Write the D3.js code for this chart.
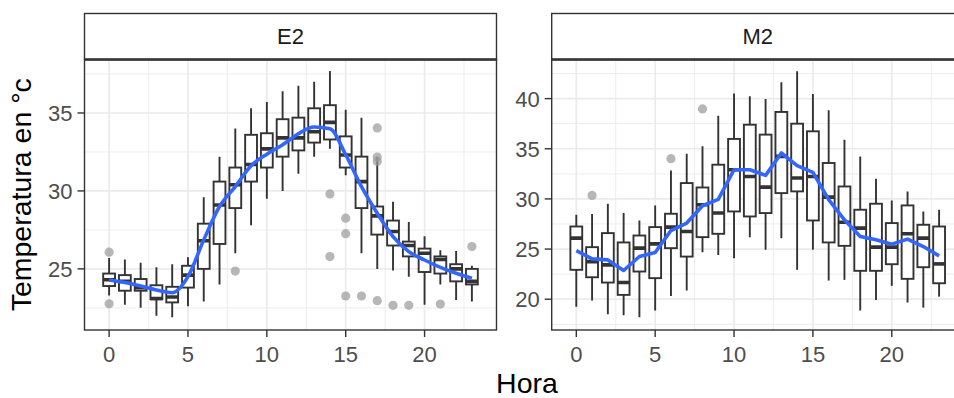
<!DOCTYPE html>
<html>
<head>
<meta charset="utf-8">
<script src="https://cdn.jsdelivr.net/npm/d3@7/dist/d3.min.js"></script>
<style>
  html, body { margin: 0; padding: 0; background: #fff; }
  svg { display: block; font-family: "Liberation Sans", Arial, Helvetica, sans-serif; }
</style>
</head>
<body>
<svg id="chart" width="954" height="398"></svg>
<script>
// ---------- data ----------
const hours = d3.range(0, 24);
const panels = ["E2", "M2"];
const xTicks = [0, 5, 10, 15, 20];
const e2YTicks = [25, 30, 35];
const m2YTicks = [20, 25, 30, 35, 40];

const e2Low  = [23.3, 22.7, 22.5, 22.0, 21.9, 22.6, 22.9, 24.0, 26.0, 27.8, 29.5, 30.0, 31.1, 32.2, 32.7, 31.0, 26.0, 25.0, 24.9, 24.5, 22.7, 24.0, 23.0, 22.9];
const e2Q1   = [23.9, 23.6, 23.6, 23.05, 22.85, 23.8, 25.0, 26.6, 28.9, 30.6, 31.5, 32.2, 32.6, 33.1, 33.3, 31.5, 28.9, 27.2, 26.5, 25.8, 24.8, 24.7, 24.2, 24.0];
const e2Med  = [24.3, 24.2, 23.8, 23.1, 23.2, 24.6, 26.8, 29.1, 30.4, 31.7, 32.7, 33.4, 33.4, 33.8, 34.4, 32.3, 30.6, 28.4, 27.4, 26.5, 26.0, 25.6, 25.0, 24.2];
const e2Q3   = [24.7, 24.6, 24.35, 23.95, 23.85, 25.2, 27.9, 30.6, 31.5, 33.6, 33.7, 34.6, 34.7, 35.3, 35.5, 33.5, 32.2, 29.0, 28.1, 26.75, 26.3, 25.8, 25.3, 25.0];
const e2High = [25.7, 25.6, 25.4, 25.1, 25.3, 25.75, 29.6, 32.2, 34.0, 35.3, 35.7, 36.4, 36.75, 37.0, 37.7, 35.2, 34.7, 32.2, 29.3, 28.0, 27.1, 26.2, 26.15, 25.2];
const e2Out  = [[0, 26.07], [0, 22.76], [8, 24.86], [14, 29.81], [14, 25.79], [15, 28.25], [15, 27.26], [15, 23.26], [16, 23.26], [17, 34.04], [17, 32.17], [17, 31.89], [17, 22.96], [18, 22.66], [19, 22.66], [21, 22.74], [23, 26.43]];
const e2Smooth = [24.29, 24.12, 23.90, 23.64, 23.47, 24.50, 26.86, 29.0, 30.28, 31.61, 32.36, 32.96, 33.67, 34.10, 33.99, 32.32, 30.28, 28.57, 27.07, 26.11, 25.57, 25.10, 24.72, 24.40];

const m2Low  = [19.26, 19.86, 18.5, 18.4, 18.2, 18.87, 20.33, 20.86, 24.69, 24.42, 24.09, 26.19, 24.92, 26.09, 22.93, 24.92, 21.86, 21.93, 18.87, 19.93, 21.33, 19.67, 19.16, 20.26];
const m2Q1   = [22.93, 22.19, 21.66, 20.43, 22.76, 22.10, 25.09, 24.25, 26.19, 26.52, 28.75, 28.25, 28.59, 30.58, 30.75, 27.85, 25.66, 25.32, 22.83, 22.83, 23.49, 22.03, 23.19, 21.59];
const m2Med  = [26.09, 23.75, 23.42, 21.66, 25.09, 25.52, 27.19, 26.75, 29.42, 28.59, 32.91, 32.24, 31.18, 34.24, 32.08, 32.24, 30.18, 27.68, 27.09, 25.19, 25.19, 26.52, 26.09, 23.52];
const m2Q3   = [27.25, 25.19, 26.59, 25.66, 26.35, 27.19, 28.52, 31.58, 31.14, 33.41, 35.98, 37.40, 36.41, 38.67, 37.50, 36.74, 33.58, 31.24, 28.92, 29.52, 27.59, 29.35, 27.42, 27.25];
const m2High = [28.42, 28.49, 29.52, 28.59, 27.85, 29.35, 32.84, 34.51, 35.24, 38.30, 40.50, 40.23, 39.97, 41.63, 42.73, 40.47, 38.83, 35.91, 34.24, 32.01, 29.85, 30.75, 28.75, 28.92];
const m2Out  = [[1, 30.35], [6, 34.01], [8, 38.97]];
const m2Smooth = [24.85, 24.02, 23.92, 22.86, 24.26, 24.66, 26.85, 27.59, 29.32, 29.95, 32.91, 32.91, 32.35, 34.58, 33.31, 32.64, 29.92, 27.92, 26.25, 25.92, 25.49, 25.99, 25.25, 24.32];

const xTitle = "Hora";
const yTitle = "Temperatura en °c";

// ---------- layout ----------
const svg = d3.select("#chart");
const stripTop = 13.5, panelTop = 59.5, panelBottom = 330;
const panelW = 412;
const panelLefts = [84.5, 551.7];

const panelSpecs = [
  { name: panels[0], low: e2Low, q1: e2Q1, med: e2Med, q3: e2Q3, high: e2High, out: e2Out, smooth: e2Smooth,
    yDomain: [21.08, 38.43], yTicks: e2YTicks, curve: d3.curveMonotoneX },
  { name: panels[1], low: m2Low, q1: m2Q1, med: m2Med, q3: m2Q3, high: m2High, out: m2Out, smooth: m2Smooth,
    yDomain: [16.93, 43.9], yTicks: m2YTicks, curve: d3.curveLinear }
];

const textCol = "#4D4D4D", lineCol = "#333333", gridCol = "#EBEBEB";
const tickFont = 22, titleFont = 28.5;

panelSpecs.forEach((p, i) => {
  const x0 = panelLefts[i], x1 = x0 + panelW;
  const x = d3.scaleLinear().domain([-1.56, 24.56]).range([x0, x1]);
  const y = d3.scaleLinear().domain(p.yDomain).range([panelBottom, panelTop]);
  const g = svg.append("g");

  const clipId = "clip" + i;
  svg.append("clipPath").attr("id", clipId).append("rect")
    .attr("x", x0).attr("y", panelTop).attr("width", panelW).attr("height", panelBottom - panelTop);

  g.append("rect").attr("x", x0).attr("y", panelTop).attr("width", panelW).attr("height", panelBottom - panelTop).attr("fill", "#fff");

  const grid = g.append("g").attr("clip-path", `url(#${clipId})`);
  const step = p.yTicks[1] - p.yTicks[0];
  const yMinor = d3.range(p.yTicks.length + 1).map(k => p.yTicks[0] - step / 2 + k * step);
  const xMinor = [2.5, 7.5, 12.5, 17.5, 22.5];
  grid.selectAll(".ymin").data(yMinor).join("line")
    .attr("x1", x0).attr("x2", x1).attr("y1", d => y(d)).attr("y2", d => y(d))
    .attr("stroke", gridCol).attr("stroke-width", 0.9);
  grid.selectAll(".xmin").data(xMinor).join("line")
    .attr("y1", panelTop).attr("y2", panelBottom).attr("x1", d => x(d)).attr("x2", d => x(d))
    .attr("stroke", gridCol).attr("stroke-width", 0.9);
  grid.selectAll(".ymaj").data(p.yTicks).join("line")
    .attr("x1", x0).attr("x2", x1).attr("y1", d => y(d)).attr("y2", d => y(d))
    .attr("stroke", gridCol).attr("stroke-width", 1.7);
  grid.selectAll(".xmaj").data(xTicks).join("line")
    .attr("y1", panelTop).attr("y2", panelBottom).attr("x1", d => x(d)).attr("x2", d => x(d))
    .attr("stroke", gridCol).attr("stroke-width", 1.7);

  // boxplots
  const bw = (x(0.75) - x(0));
  const boxes = g.append("g").attr("clip-path", `url(#${clipId})`);
  hours.forEach((h, k) => {
    const cx = x(h);
    boxes.append("line").attr("x1", cx).attr("x2", cx).attr("y1", y(p.high[k])).attr("y2", y(p.q3[k]))
      .attr("stroke", lineCol).attr("stroke-width", 1.9);
    boxes.append("line").attr("x1", cx).attr("x2", cx).attr("y1", y(p.q1[k])).attr("y2", y(p.low[k]))
      .attr("stroke", lineCol).attr("stroke-width", 1.9);
    boxes.append("rect").attr("x", cx - bw / 2).attr("width", bw)
      .attr("y", y(p.q3[k])).attr("height", Math.max(0.5, y(p.q1[k]) - y(p.q3[k])))
      .attr("fill", "#fff").attr("stroke", lineCol).attr("stroke-width", 1.9);
    boxes.append("line").attr("x1", cx - bw / 2).attr("x2", cx + bw / 2).attr("y1", y(p.med[k])).attr("y2", y(p.med[k]))
      .attr("stroke", lineCol).attr("stroke-width", 3.6);
  });
  boxes.selectAll(".out").data(p.out).join("circle")
    .attr("cx", d => x(d[0])).attr("cy", d => y(d[1])).attr("r", 4.6)
    .attr("fill", "#999999").attr("fill-opacity", 0.7);

  const line = d3.line().x((d, k) => x(hours[k])).y(d => y(d)).curve(p.curve);
  boxes.append("path").datum(p.smooth).attr("d", line)
    .attr("fill", "none").attr("stroke", "#3366FF").attr("stroke-width", 3.6)
    .attr("stroke-linejoin", "round").attr("stroke-linecap", "butt");

  // panel border
  g.append("rect").attr("x", x0).attr("y", panelTop).attr("width", panelW).attr("height", panelBottom - panelTop)
    .attr("fill", "none").attr("stroke", lineCol).attr("stroke-width", 1.4);

  // strip
  g.append("rect").attr("x", x0).attr("y", stripTop).attr("width", panelW).attr("height", panelTop - stripTop)
    .attr("fill", "#fff").attr("stroke", lineCol).attr("stroke-width", 1.4);
  g.append("line").attr("x1", x0).attr("x2", x1).attr("y1", panelTop).attr("y2", panelTop)
    .attr("stroke", lineCol).attr("stroke-width", 2.6);
  g.append("text").attr("x", (x0 + x1) / 2).attr("y", (stripTop + panelTop) / 2).attr("dy", "0.36em")
    .attr("text-anchor", "middle").attr("font-size", tickFont).attr("fill", "#1A1A1A").text(p.name);

  // y axis
  const yAx = g.append("g");
  yAx.selectAll("line").data(p.yTicks).join("line")
    .attr("x1", x0 - 7).attr("x2", x0).attr("y1", d => y(d)).attr("y2", d => y(d))
    .attr("stroke", lineCol).attr("stroke-width", 1.4);
  yAx.selectAll("text").data(p.yTicks).join("text")
    .attr("x", x0 - 12).attr("y", d => y(d)).attr("dy", "0.36em")
    .attr("text-anchor", "end").attr("font-size", tickFont).attr("fill", textCol).text(d => d);

  // x axis
  const xAx = g.append("g");
  xAx.selectAll("line").data(xTicks).join("line")
    .attr("y1", panelBottom).attr("y2", panelBottom + 7).attr("x1", d => x(d)).attr("x2", d => x(d))
    .attr("stroke", lineCol).attr("stroke-width", 1.4);
  xAx.selectAll("text").data(xTicks).join("text")
    .attr("x", d => x(d)).attr("y", 362)
    .attr("text-anchor", "middle").attr("font-size", tickFont).attr("fill", textCol).text(d => d);
});

// axis titles
svg.append("text").attr("x", 527).attr("y", 393).attr("text-anchor", "middle")
  .attr("font-size", titleFont).attr("fill", "#000").text(xTitle);
svg.append("text").attr("transform", `translate(31,${(panelTop + panelBottom) / 2}) rotate(-90)`)
  .attr("text-anchor", "middle").attr("font-size", titleFont).attr("fill", "#000").text(yTitle);
</script>
</body>
</html>
